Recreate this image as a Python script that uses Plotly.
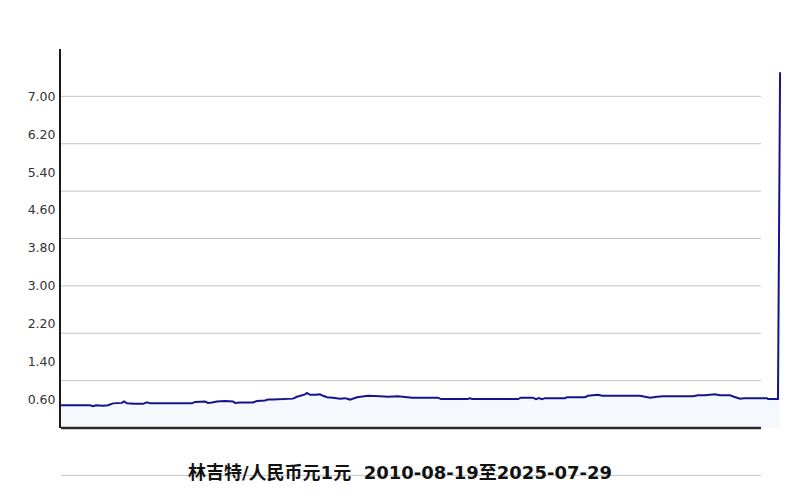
import plotly.graph_objects as go

# Data (MYR per 1 CNY)
dates = [
    "2010-08-19", "2011-03-27", "2011-04-19", "2011-05-12", "2011-07-04", "2011-08-11",
    "2011-09-18", "2011-11-25", "2011-12-10", "2012-01-02", "2012-03-03", "2012-05-02",
    "2012-06-02", "2012-06-25", "2013-05-09", "2013-06-01", "2013-08-16", "2013-09-08",
    "2013-10-08", "2013-11-15", "2014-01-15", "2014-03-16", "2014-04-01", "2014-05-09",
    "2014-08-15", "2014-09-15", "2014-11-14", "2014-12-07", "2015-01-14", "2015-04-15",
    "2015-06-15", "2015-07-15", "2015-08-15", "2015-09-14", "2015-09-29", "2015-10-22",
    "2015-12-06", "2016-01-06", "2016-01-29", "2016-02-28", "2016-04-13", "2016-06-06",
    "2016-07-14", "2016-08-20", "2016-10-13", "2016-11-27", "2017-01-04", "2017-04-05",
    "2017-06-05", "2017-08-20", "2017-10-12", "2017-12-04", "2018-06-19", "2018-07-12",
    "2019-02-02", "2019-02-17", "2019-03-04", "2020-02-17", "2020-03-10", "2020-06-09",
    "2020-07-02", "2020-07-25", "2020-08-17", "2020-09-09", "2021-02-07", "2021-02-23",
    "2021-07-09", "2021-08-01", "2021-10-16", "2021-11-15", "2022-08-31", "2022-10-08",
    "2022-11-15", "2023-01-07", "2023-02-21", "2023-10-07", "2023-11-14", "2024-01-06",
    "2024-03-22", "2024-04-29", "2024-07-14", "2024-08-13", "2024-09-28", "2024-10-28",
    "2025-04-21", "2025-04-28", "2025-07-13", "2025-07-29",
]
rates = [
    0.48, 0.48, 0.46, 0.48, 0.47, 0.48,
    0.52, 0.53, 0.56, 0.52, 0.51, 0.51,
    0.54, 0.52, 0.52, 0.55, 0.56, 0.53,
    0.54, 0.56, 0.57, 0.56, 0.53, 0.54,
    0.54, 0.57, 0.58, 0.60, 0.60, 0.61,
    0.62, 0.66, 0.68, 0.71, 0.74, 0.70,
    0.70, 0.71, 0.68, 0.65, 0.64, 0.62,
    0.63, 0.60, 0.65, 0.67, 0.68, 0.67,
    0.66, 0.67, 0.66, 0.64, 0.64, 0.61,
    0.61, 0.63, 0.61, 0.61, 0.64, 0.64,
    0.61, 0.63, 0.61, 0.63, 0.63, 0.65,
    0.65, 0.68, 0.70, 0.68, 0.68, 0.66,
    0.64, 0.66, 0.67, 0.67, 0.69, 0.69,
    0.71, 0.69, 0.69, 0.66, 0.62, 0.63,
    0.63, 0.61, 0.61, 7.51,
]
y_tick_vals = [0.6, 1.4, 2.2, 3.0, 3.8, 4.6, 5.4, 6.2, 7.0]
y_tick_text = ["0.60", "1.40", "2.20", "3.00", "3.80", "4.60", "5.40", "6.20", "7.00"]
grid_levels = [1, 2, 3, 4, 5, 6, 7]
title_text = "林吉特/人民币元1元  2010-08-19至2025-07-29"

Y_MAX = 8.0
GRID_X1 = 0.9722  # gridlines stop short of the plot's right edge

fig = go.Figure()
fig.add_trace(go.Scatter(
    x=dates, y=rates, mode="lines",
    line=dict(color="#14148c", width=2),
    fill="tozeroy", fillcolor="#f5f9fe",
    hoverinfo="x+y", showlegend=False,
))

shapes = []
for g in grid_levels:
    shapes.append(dict(type="line", xref="paper", yref="y", x0=0, x1=GRID_X1, y0=g, y1=g,
                       line=dict(color="#c4c4c4", width=1), layer="below"))
# gridline at -1 (below the plot area, through the title)
shapes.append(dict(type="line", xref="paper", yref="paper", x0=0, x1=GRID_X1,
                   y0=-1 / Y_MAX, y1=-1 / Y_MAX, line=dict(color="#c4c4c4", width=1), layer="below"))
# bottom axis line
shapes.append(dict(type="line", xref="paper", yref="paper", x0=0, x1=GRID_X1, y0=0, y1=0,
                   line=dict(color="#2a2a2a", width=2.5), layer="above"))

fig.update_layout(
    width=800, height=500,
    margin=dict(l=61, r=19, t=49, b=72),
    paper_bgcolor="white", plot_bgcolor="white",
    shapes=shapes,
    title=dict(text="<b>" + title_text + "</b>", x=0.5, xanchor="center",
               y=1 - 473 / 500, yref="container", yanchor="middle",
               font=dict(family="DejaVu Sans, Noto Sans CJK SC", size=18, color="#111111")),
    xaxis=dict(range=["2010-08-19", "2025-08-05"], showgrid=False, zeroline=False,
               showticklabels=False, ticks="", showline=False),
    yaxis=dict(range=[0, Y_MAX], tickvals=y_tick_vals, ticktext=y_tick_text,
               showgrid=False, zeroline=False, showline=True, linecolor="#1a1a1a", linewidth=2,
               ticks="", ticklabelstandoff=1,
               tickfont=dict(family="DejaVu Sans", size=12.5, color="#333333")),
)

fig.write_html("out.html", config={"displayModeBar": False},
               post_script="document.body.style.margin='0';")
